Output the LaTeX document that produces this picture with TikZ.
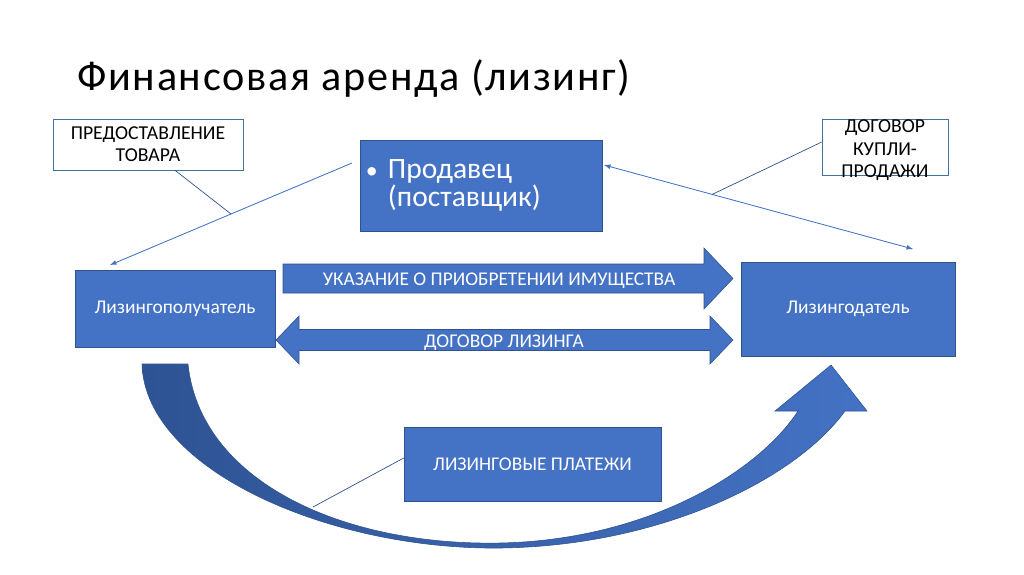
\documentclass[tikz,border=0pt]{standalone}
\usepackage{fontspec}
\setmainfont{Carlito}
\newfontfamily\titlefont[LetterSpace=4]{Carlito}
\definecolor{boxblue}{HTML}{4472C4}
\definecolor{boxline}{HTML}{2F528F}
\definecolor{taildark}{HTML}{2E5394}
\definecolor{noteedge}{HTML}{41719C}
\tikzset{
  bluebox/.style={draw=boxline, fill=boxblue, text=white, inner sep=0pt,
    align=center, font=\fontsize{13.8}{16}\selectfont},
  notebox/.style={draw=noteedge, fill=white, inner sep=0pt, align=center,
    font=\fontsize{14}{15.8}\selectfont},
  arrowtext/.style={anchor=base, text=white, inner sep=0pt, font=\fontsize{13.8}{16}\selectfont},
  blockarrow/.style={fill=boxblue, draw=boxline, line width=0.4pt},
  thinarrow/.style={draw=boxblue, line width=0.6pt, >=latex},
  pointer/.style={draw=boxline, line width=0.5pt},
}
\begin{document}
\begin{tikzpicture}[x=0.025cm,y=-0.025cm]
   \useasboundingbox (0,0) rectangle (1024,574);
   \node[anchor=base west, inner sep=0pt, font=\titlefont\fontsize{30}{35}\selectfont]
      (title) at (77,90) {Финансовая аренда (лизинг)};

   % big curved arrow (payments)
   \shadedraw[left color=taildark, right color=boxblue, draw=boxline, line width=0.4pt]
      (142,364) .. controls (145,470) and (330,550) .. (500,548)
      .. controls (660,546) and (795,480) .. (845,411)
      -- (867,411) -- (831,365) -- (775,411) -- (798,411)
      .. controls (760,470) and (650,540) .. (500,543)
      .. controls (340,546) and (200,480) .. (188,364) -- cycle;
   \coordinate (curvept) at (313,507);

   \node[notebox, minimum width=4.75cm, minimum height=1.275cm]
      (predost) at (148,144.5) {ПРЕДОСТАВЛЕНИЕ\\ТОВАРА};
   \node[notebox, minimum width=3.15cm, minimum height=1.4cm,
      label={[align=center, inner sep=0pt, yshift=-0.08cm, font=\fontsize{14}{15.8}\selectfont]center:ДОГОВОР\\КУПЛИ-\\ПРОДАЖИ}]
      (kupli) at (885,147) {};
   \node[bluebox, minimum width=6.05cm, minimum height=2.275cm, text width=5.75cm,
      align=left, font=\fontsize{21}{18.5}\selectfont]
      (seller) at (481,185.5) {\makebox[0.55cm][l]{\fontsize{17}{17}\selectfont\textbullet}Продавец\\\hspace*{0.55cm}(поставщик)};
   \node[bluebox, minimum width=5cm, minimum height=1.925cm] (lessee) at (175,308.5) {Лизингополучатель};
   \node[bluebox, minimum width=5.35cm, minimum height=2.35cm] (lessor) at (848,309) {Лизингодатель};
   \node[bluebox, minimum width=6.425cm, minimum height=1.85cm] (payments) at (532.5,464) {ЛИЗИНГОВЫЕ ПЛАТЕЖИ};

   % block arrows between the two parties
   \filldraw[blockarrow] (283,264) -- (704,264) -- (704,248) -- (733,278.5)
      -- (704,309) -- (704,293) -- (283,293) -- cycle;
   \node[arrowtext] (ukaz) at (499,285.5) {УКАЗАНИЕ О ПРИОБРЕТЕНИИ ИМУЩЕСТВА};
   \filldraw[blockarrow] (276,340) -- (299,316) -- (299,329.5) -- (710,329.5)
      -- (710,316) -- (733,340) -- (710,364) -- (710,350.5) -- (299,350.5)
      -- (299,364) -- cycle;
   \node[arrowtext] (dogovor) at (504,347.5) {ДОГОВОР ЛИЗИНГА};

   % thin arrows from the seller
   \coordinate (sellerL) at (352,163);
   \coordinate (lesseeT) at (110,265);
   \coordinate (sellerR) at (604,165);
   \coordinate (lessorT) at (913,249);
   \draw[thinarrow,->] (sellerL) -- (lesseeT) coordinate[pos=0.5] (predpt);
   \draw[thinarrow,<->] (sellerR) -- (lessorT) coordinate[pos=0.35] (kuplipt);

   % callout lines
   \draw[pointer] ([xshift=0.675cm]predost.south) -- (predpt);
   \draw[pointer] ([yshift=0.125cm]kupli.west) -- (kuplipt);
   \draw[pointer] ([yshift=0.15cm]payments.west) -- (curvept);
\end{tikzpicture}
\end{document}
